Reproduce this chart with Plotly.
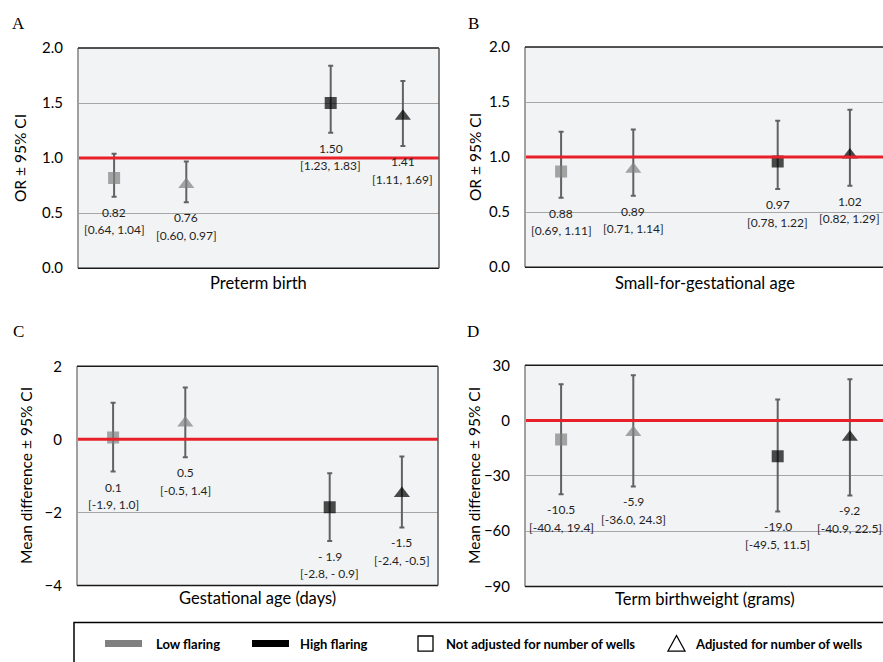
import plotly.graph_objects as go

W, H = 883, 662
# the captured picture is offset/compressed vertically relative to the page; compensate
V_OFF, V_SCALE = 10.0, 0.972

# ---------------- data ----------------
slot = [0, 1, 3, 4]                       # category slots (gap between low and high)
flaring = ["Low", "Low", "High", "High"]
adjusted = [False, True, False, True]

a_y = [0.82, 0.76, 1.50, 1.38]
a_lo = [0.65, 0.60, 1.23, 1.11]
a_hi = [1.04, 0.97, 1.84, 1.70]
a_val = ["0.82", "0.76", "1.50", "1.41"]
a_ci = ["[0.64, 1.04]", "[0.60, 0.97]", "[1.23, 1.83]", "[1.11, 1.69]"]

b_y = [0.87, 0.89, 0.96, 1.02]
b_lo = [0.63, 0.65, 0.71, 0.74]
b_hi = [1.23, 1.25, 1.33, 1.43]
b_val = ["0.88", "0.89", "0.97", "1.02"]
b_ci = ["[0.69, 1.11]", "[0.71, 1.14]", "[0.78, 1.22]", "[0.82, 1.29]"]

c_y = [0.05, 0.45, -1.86, -1.48]
c_lo = [-0.88, -0.49, -2.78, -2.41]
c_hi = [1.00, 1.42, -0.93, -0.47]
c_val = ["0.1", "0.5", "- 1.9", "-1.5"]
c_ci = ["[-1.9, 1.0]", "[-0.5, 1.4]", "[-2.8, - 0.9]", "[-2.4, -0.5]"]

d_y = [-10.2, -6.4, -19.4, -9.1]
d_lo = [-40.0, -35.7, -49.3, -40.6]
d_hi = [19.7, 24.6, 11.5, 22.4]
d_val = ["-10.5", "-5.9", "-19.0", "-9.2"]
d_ci = ["[-40.4, 19.4]", "[-36.0, 24.3]", "[-49.5, 11.5]", "[-40.9, 22.5]"]

legend_colors = ["Low flaring", "High flaring"]
legend_shapes = ["Not adjusted for number of wells", "Adjusted for number of wells"]

# ---------------- styles ----------------
FONT = "Lato"
COL = {"Low": "#808080", "High": "#000000"}
SYM = {False: "square", True: "triangle-up"}
SIZE = {False: 12, True: 14}


def px(x):
    return x / W


def py(y):
    return 1 - ((y - V_OFF) / V_SCALE) / H


panels = [
    dict(letter="A", y=a_y, lo=a_lo, hi=a_hi, val=a_val, ci=a_ci, rng=[0, 2], dtick=0.5, fmt=".1f",
         ref=1.0, xd=(78, 439), yd=(48, 268), right=True, ytitle="OR ± 95% CI", xtitle="Preterm birth",
         letter_xy=(18, 23), ytitle_x=20, xtitle_y=283),
    dict(letter="B", y=b_y, lo=b_lo, hi=b_hi, val=b_val, ci=b_ci, rng=[0, 2], dtick=0.5, fmt=".1f",
         ref=1.0, xd=(525, 885), yd=(47, 267), right=False, ytitle="OR ± 95% CI",
         xtitle="Small-for-gestational age", letter_xy=(473, 23), ytitle_x=475, xtitle_y=283),
    dict(letter="C", y=c_y, lo=c_lo, hi=c_hi, val=c_val, ci=c_ci, rng=[-4, 2], dtick=2, fmt="d",
         ref=0.0, xd=(77, 438), yd=(366, 585), right=True, ytitle="Mean difference ± 95% CI",
         xtitle="Gestational age (days)", letter_xy=(18, 331), ytitle_x=26, xtitle_y=598),
    dict(letter="D", y=d_y, lo=d_lo, hi=d_hi, val=d_val, ci=d_ci, rng=[-90, 30], dtick=30, fmt="d",
         ref=0.0, xd=(525, 885), yd=(365, 586), right=False, ytitle="Mean difference ± 95% CI",
         xtitle="Term birthweight (grams)", letter_xy=(473, 331), ytitle_x=474, xtitle_y=599),
]

fig = go.Figure()
shapes = []
annotations = []
layout = {}

for i, p in enumerate(panels):
    n = "" if i == 0 else str(i + 1)
    xa, ya = "x" + n, "y" + n
    x0p, x1p = p["xd"]
    full_w = 361.0
    vis_x1 = min(x1p, W)   # B and D run off the right edge of the picture
    span = 5 * (vis_x1 - x0p) / full_w
    layout["xaxis" + n] = dict(
        domain=[px(x0p), px(vis_x1)], range=[-0.5, -0.5 + span], showticklabels=False,
        showgrid=False, zeroline=False, showline=False, ticks="", anchor=ya, fixedrange=True)
    layout["yaxis" + n] = dict(
        domain=[py(p["yd"][1]), py(p["yd"][0])], range=p["rng"], dtick=p["dtick"], tick0=p["rng"][0],
        tickformat=p["fmt"], showgrid=True, gridcolor="#a6a6a6", gridwidth=1, zeroline=False,
        showline=False, ticks="", ticklabelstandoff=14, anchor=xa,
        tickfont=dict(family=FONT, size=15, color="#000000"), fixedrange=True)

    fig.add_trace(go.Scatter(
        x=slot, y=p["y"], mode="markers", xaxis=xa, yaxis=ya, showlegend=False,
        marker=dict(color=[COL[f] for f in flaring], symbol=[SYM[a] for a in adjusted],
                    size=[SIZE[a] for a in adjusted], line=dict(width=0)),
        error_y=dict(type="data", symmetric=False,
                     array=[h - v for h, v in zip(p["hi"], p["y"])],
                     arrayminus=[v - l for v, l in zip(p["y"], p["lo"])],
                     color="#626262", thickness=2, width=2.5),
    ))

    # red reference line (drawn over the markers, as in the original)
    shapes.append(dict(type="line", xref=xa + " domain", yref=ya, x0=0, x1=1, y0=p["ref"], y1=p["ref"],
                       line=dict(color="#e8202a", width=3), layer="above"))
    # borders
    shapes.append(dict(type="line", xref=xa + " domain", yref=ya + " domain", x0=0, x1=0, y0=0, y1=1,
                       line=dict(color="#a0a0a0", width=2)))
    shapes.append(dict(type="line", xref=xa + " domain", yref=ya + " domain", x0=0, x1=1, y0=1, y1=1,
                       line=dict(color="#1a1a1a", width=1.5)))
    shapes.append(dict(type="line", xref=xa + " domain", yref=ya + " domain", x0=0, x1=1, y0=0, y1=0,
                       line=dict(color="#1a1a1a", width=1.5)))
    if p["right"]:
        shapes.append(dict(type="line", xref=xa + " domain", yref=ya + " domain", x0=1, x1=1, y0=0, y1=1,
                           line=dict(color="#595959", width=1.5)))

    # value labels
    for s, lo, v, c in zip(slot, p["lo"], p["val"], p["ci"]):
        annotations.append(dict(x=s, y=lo, xref=xa, yref=ya, text=v, showarrow=False, yanchor="middle",
                                yshift=-15.5, font=dict(family=FONT, size=12, color="#1f1f1f")))
        annotations.append(dict(x=s, y=lo, xref=xa, yref=ya, text=c, showarrow=False, yanchor="middle",
                                yshift=-33, font=dict(family=FONT, size=12, color="#1f1f1f")))

    # panel letter
    lx, ly = p["letter_xy"]
    annotations.append(dict(x=px(lx), y=py(ly), xref="paper", yref="paper", text=p["letter"],
                            showarrow=False, xanchor="center", yanchor="middle",
                            font=dict(family="Liberation Serif", size=17, color="#000000")))
    # axis titles
    annotations.append(dict(x=px(p["ytitle_x"]), y=py((p["yd"][0] + p["yd"][1]) / 2), xref="paper",
                            yref="paper", text=p["ytitle"], textangle=-90, showarrow=False,
                            xanchor="center", yanchor="middle",
                            font=dict(family=FONT, size=15.5, color="#000000")))
    annotations.append(dict(x=px((x0p + x1p) / 2), y=py(p["xtitle_y"]), xref="paper", yref="paper",
                            text=p["xtitle"], showarrow=False, xanchor="center", yanchor="middle",
                            font=dict(family=FONT, size=16.5, color="#000000")))

# ---------------- legend box ----------------
shapes.append(dict(type="rect", xref="paper", yref="paper", x0=px(74), x1=px(900), y0=-0.05, y1=py(622),
                   line=dict(color="#000000", width=1.5), fillcolor="rgba(0,0,0,0)"))
LEG_Y = 643
LEG_FONT = dict(family=FONT, size=13, color="#000000")
for (rx0, rx1, tx), name, f in zip([(105, 142, 154), (252, 289, 298)], legend_colors, ["Low", "High"]):
    shapes.append(dict(type="rect", xref="paper", yref="paper", x0=px(rx0), x1=px(rx1),
                       y0=py(LEG_Y + 3.5), y1=py(LEG_Y - 3.5), line=dict(width=0), fillcolor=COL[f]))
    annotations.append(dict(x=px(tx), y=py(LEG_Y), xref="paper", yref="paper", text="<b>" + name + "</b>",
                            showarrow=False, xanchor="left", yanchor="middle", font=LEG_FONT))
# square outline
shapes.append(dict(type="rect", xref="paper", yref="paper", x0=px(418), x1=px(433), y0=py(650.5), y1=py(635.5),
                   line=dict(color="#000000", width=1.3), fillcolor="rgba(0,0,0,0)"))
annotations.append(dict(x=px(444), y=py(LEG_Y), xref="paper", yref="paper", text="<b>" + legend_shapes[0] + "</b>",
                        showarrow=False, xanchor="left", yanchor="middle", font=LEG_FONT))
# triangle outline
tri = "M {:.5f} {:.5f} L {:.5f} {:.5f} L {:.5f} {:.5f} Z".format(px(668), py(650.5), px(685), py(650.5),
                                                               px(676.5), py(635))
shapes.append(dict(type="path", xref="paper", yref="paper", path=tri,
                   line=dict(color="#000000", width=1.3), fillcolor="rgba(0,0,0,0)"))
annotations.append(dict(x=px(693), y=py(LEG_Y), xref="paper", yref="paper", text="<b>" + legend_shapes[1] + "</b>",
                        showarrow=False, xanchor="left", yanchor="middle", font=LEG_FONT))

fig.update_layout(
    width=W, height=H, autosize=False,
    margin=dict(l=0, r=0, t=0, b=0),
    paper_bgcolor="#ffffff", plot_bgcolor="#f2f3f5",
    shapes=shapes, annotations=annotations, showlegend=False,
    font=dict(family=FONT, color="#000000"),
    **layout,
)

post = ("document.documentElement.style.margin='0';document.documentElement.style.padding='0';"
        "document.documentElement.style.overflow='hidden';"
        "document.body.style.margin='0';document.body.style.padding='0';document.body.style.overflow='hidden';")
fig.write_html("out.html", config={"displayModeBar": False, "responsive": False}, post_script=post)
